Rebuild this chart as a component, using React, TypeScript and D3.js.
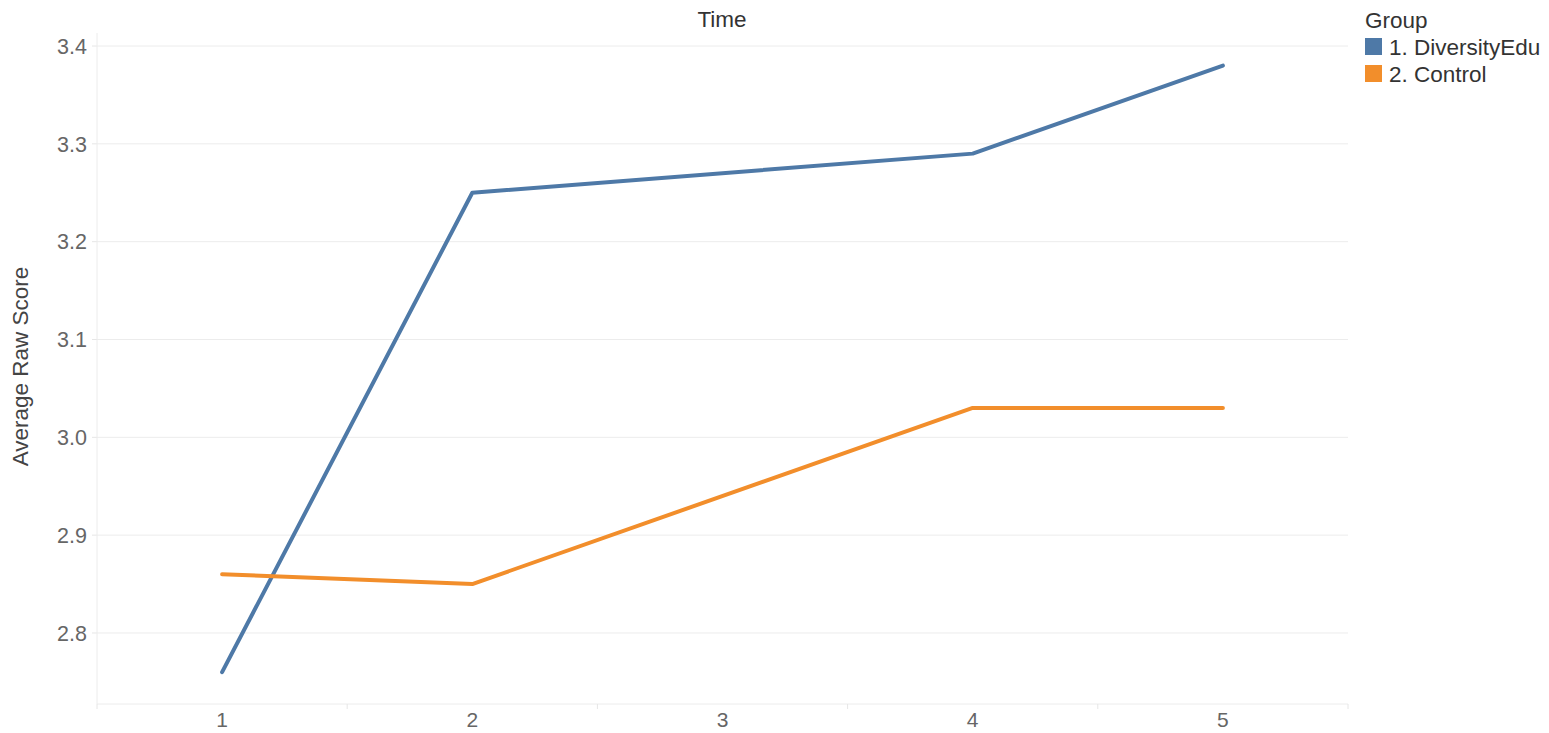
import React from "react";
import * as d3 from "d3";

const times = [1, 2, 4, 5];
const diversityEdu = [2.76, 3.25, 3.29, 3.38];
const control = [2.86, 2.85, 3.03, 3.03];
const xTickLabels = [1, 2, 3, 4, 5];
const yTickValues = [2.8, 2.9, 3.0, 3.1, 3.2, 3.3, 3.4];
const groups = ["1. DiversityEdu", "2. Control"];
const colors = ["#4e79a7", "#f28e2b"];

const W = 1549;
const H = 733;
const left = 97;
const right = 1348;
const top = 33;
const bottom = 704;

export default function App() {
  const x = d3.scaleLinear().domain([0.5, 5.5]).range([left, right]);
  const y = d3.scaleLinear().domain([2.7274, 3.4133]).range([bottom, top]);
  const line = d3
    .line<[number, number]>()
    .x((d) => x(d[0]))
    .y((d) => y(d[1]));
  const series = [diversityEdu, control].map((vals) =>
    times.map((t, i) => [t, vals[i]] as [number, number])
  );
  const halfTicks = d3.range(0.5, 6, 1);
  const font = "'Liberation Sans', Arial, sans-serif";

  return (
    <svg
      width={W}
      height={H}
      style={{ position: "absolute", left: 0, top: 0, background: "#fff" }}
      fontFamily={font}
    >
      {yTickValues.map((v) => (
        <g key={v}>
          <line x1={left} x2={right} y1={y(v)} y2={y(v)} stroke="#ececec" strokeWidth={1} />
          <line x1={left - 5} x2={left} y1={y(v)} y2={y(v)} stroke="#e6e6e6" strokeWidth={1} />
          <text x={87} y={y(v)} dy="0.36em" textAnchor="end" fontSize={21.5} fill="#666">
            {v.toFixed(1)}
          </text>
        </g>
      ))}
      <line x1={left} x2={left} y1={top} y2={bottom} stroke="#ececec" strokeWidth={1} />
      <line x1={left} x2={right} y1={bottom} y2={bottom} stroke="#ececec" strokeWidth={1} />
      {halfTicks.map((t) => (
        <line key={t} x1={x(t)} x2={x(t)} y1={bottom} y2={bottom + 5} stroke="#e6e6e6" strokeWidth={1} />
      ))}
      {xTickLabels.map((t) => (
        <text key={t} x={x(t)} y={727} textAnchor="middle" fontSize={21} fill="#666">
          {t}
        </text>
      ))}
      <text x={722} y={27} textAnchor="middle" fontSize={22.5} fill="#333">
        Time
      </text>
      <text
        transform={`translate(28, ${(top + bottom) / 2 - 2}) rotate(-90)`}
        textAnchor="middle"
        fontSize={22.5}
        fill="#444"
      >
        Average Raw Score
      </text>
      {series.map((s, i) => (
        <path
          key={i}
          d={line(s) || ""}
          fill="none"
          stroke={colors[i]}
          strokeWidth={4}
          strokeLinejoin="round"
          strokeLinecap="round"
        />
      ))}
      <text x={1365} y={28} fontSize={22.5} fill="#333">
        Group
      </text>
      {groups.map((g, i) => (
        <g key={g}>
          <rect x={1365} y={38 + i * 27} width={17} height={17} fill={colors[i]} />
          <text x={1389} y={55 + i * 27} fontSize={22.5} fill="#333">
            {g}
          </text>
        </g>
      ))}
    </svg>
  );
}
